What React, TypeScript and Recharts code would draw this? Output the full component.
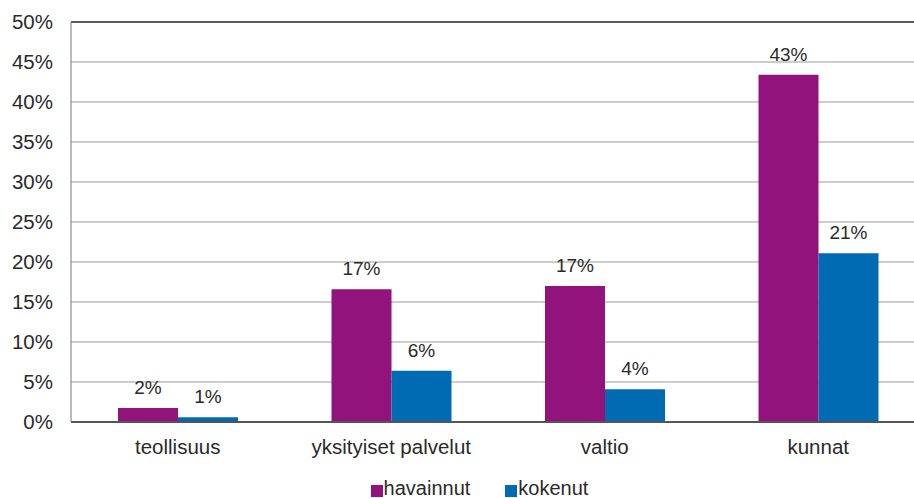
import React from "react";
import { BarChart, Bar, XAxis, YAxis, CartesianGrid, Legend, LabelList, ReferenceLine } from "recharts";

const categories = ["teollisuus", "yksityiset palvelut", "valtio", "kunnat"];
const havainnut = [1.75, 16.6, 17.0, 43.4];
const kokenut = [0.6, 6.4, 4.1, 21.1];
const yTicks = [0, 5, 10, 15, 20, 25, 30, 35, 40, 45, 50];
const seriesNames = ["havainnut", "kokenut"];
const colors = ["#92137C", "#006AB3"];

const data = categories.map((c, i) => ({ name: c, havainnut: havainnut[i], kokenut: kokenut[i] }));

const FONT = "'Liberation Sans', Arial, sans-serif";
const TEXT = "#2a2a2a";

const renderLegend = () => (
  <div style={{ height: 20, position: "relative" }}>
    <div
      style={{
        position: "absolute",
        top: 1,
        left: 0,
        right: 0,
        height: 18,
        display: "flex",
        justifyContent: "center",
        paddingLeft: 34,
        alignItems: "center",
        fontFamily: FONT,
        fontSize: 20,
        color: TEXT,
        lineHeight: "18px",
      }}
    >
      {seriesNames.map((n, i) => (
        <div key={n} style={{ display: "flex", alignItems: "center", marginLeft: i === 0 ? 0 : 35 }}>
          <span style={{ display: "inline-block", width: 12, height: 12, background: colors[i], marginRight: 1, marginTop: 5 }} />
          <span>{n}</span>
        </div>
      ))}
    </div>
  </div>
);

export default function App() {
  return (
    <div style={{ position: "absolute", left: 0, top: 0, width: 914, height: 498, overflow: "hidden", background: "#fff" }}>
      <BarChart
        width={926}
        height={498}
        data={data}
        margin={{ top: 22, right: 1, left: 0, bottom: 0 }}
        barGap={0}
        barSize={60}
      >
        <CartesianGrid vertical={false} stroke="#9a9a9a" strokeWidth={1} />
        <ReferenceLine y={50} stroke="#333" strokeWidth={1.5} />
        <XAxis
          dataKey="name"
          height={56}
          tickLine={false}
          tickSize={0}
          tickMargin={17}
          axisLine={{ stroke: "#555", strokeWidth: 2 }}
          tick={{ fill: TEXT, fontSize: 20.5, fontFamily: FONT }}
          interval={0}
        />
        <YAxis
          width={71}
          domain={[0, 50]}
          ticks={yTicks}
          tickLine={false}
          tickSize={0}
          tickMargin={18}
          axisLine={{ stroke: "#777", strokeWidth: 1 }}
          tickFormatter={(v: number) => `${v}%`}
          tick={{ fill: TEXT, fontSize: 20.5, fontFamily: FONT }}
          interval={0}
        />
        <Legend verticalAlign="bottom" content={renderLegend} />
        <Bar dataKey="havainnut" fill={colors[0]} isAnimationActive={false}>
          <LabelList
            dataKey="havainnut"
            position="top"
            offset={14}
            formatter={(v: number) => `${Math.round(v)}%`}
            style={{ fill: TEXT, fontSize: 19, fontFamily: FONT }}
          />
        </Bar>
        <Bar dataKey="kokenut" fill={colors[1]} isAnimationActive={false}>
          <LabelList
            dataKey="kokenut"
            position="top"
            offset={14}
            formatter={(v: number) => `${Math.max(1, Math.round(v))}%`}
            style={{ fill: TEXT, fontSize: 19, fontFamily: FONT }}
          />
        </Bar>
      </BarChart>
    </div>
  );
}
